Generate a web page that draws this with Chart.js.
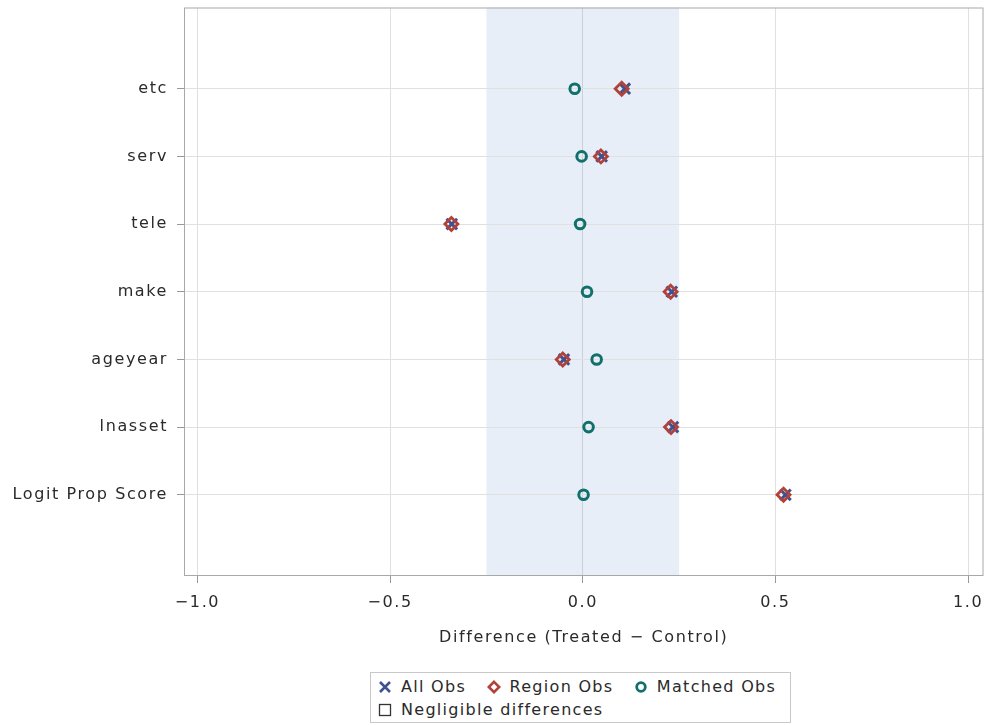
<!DOCTYPE html>
<html>
<head>
<meta charset="utf-8">
<script src="https://cdn.jsdelivr.net/npm/chart.js@4"></script>
<style>
  body { margin: 0; background: #fff; font-family: "DejaVu Sans", sans-serif; overflow: hidden; }
  #wrap { position: relative; width: 990px; height: 725px; overflow: hidden; }
  #balance { position: absolute; left: 0; top: -3px; }
  #legend {
    position: absolute; left: 370px; top: 672px; width: 421px; height: 51px;
    border: 1px solid #c8c8c8; box-sizing: border-box; padding: 2px 0 0 7px;
    font-size: 16px; color: #2a2a2a; line-height: 23px; letter-spacing: 1.3px;
    white-space: nowrap;
  }
  #legend span { margin-right: 14px; }
  #legend svg { vertical-align: -2px; margin-right: 9px; }
</style>
</head>
<body>
<div id="wrap">
  <canvas id="balance" width="994" height="668"></canvas>
  <div id="legend">
    <span><svg width="14" height="14"><path d="M2 2L12 12M12 2L2 12" stroke="#3f5190" stroke-width="2.6"/></svg>All Obs</span>
    <span><svg width="14" height="14"><path d="M7 1.8L12.2 7L7 12.2L1.8 7Z" fill="none" stroke="#b0423a" stroke-width="2.6"/></svg>Region Obs</span>
    <span><svg width="14" height="14"><circle cx="7" cy="7" r="4.3" fill="none" stroke="#11706c" stroke-width="2.8"/></svg>Matched Obs</span><br>
    <span><svg width="14" height="14"><rect x="1.5" y="1.5" width="11" height="11" fill="#fff" stroke="#333" stroke-width="1.3"/></svg>Negligible differences</span>
  </div>
</div>
<script>
// covariates, top to bottom
const variables = ["etc", "serv", "tele", "make", "ageyear", "lnasset", "Logit Prop Score"];
const allObs = [0.109, 0.049, -0.340, 0.231, -0.049, 0.234, 0.526];
const regionObs = [0.101, 0.047, -0.341, 0.228, -0.052, 0.229, 0.521];
const matchedObs = [-0.021, -0.003, -0.007, 0.011, 0.036, 0.015, 0.002];
const xTicks = [-1.0, -0.5, 0.0, 0.5, 1.0];
const negligible = [-0.25, 0.25];

function toPoints(values) {
  return values.map((v, i) => ({ x: v, y: i }));
}

// wider text, closer to the original font
const spacingPlugin = {
  id: "spacing",
  beforeUpdate(chart) { chart.ctx.letterSpacing = "1.6px"; },
  beforeDraw(chart) { chart.ctx.letterSpacing = "1.6px"; },
};

const bandPlugin = {
  id: "band",
  beforeDraw(chart) {
    const { ctx, chartArea, scales } = chart;
    const x1 = scales.x.getPixelForValue(negligible[0]);
    const x2 = scales.x.getPixelForValue(negligible[1]);
    ctx.save();
    ctx.fillStyle = "#e7eef8";
    ctx.fillRect(x1, chartArea.top, x2 - x1, chartArea.bottom - chartArea.top);
    ctx.restore();
  },
  afterDraw(chart) {
    const { ctx, chartArea } = chart;
    ctx.save();
    ctx.strokeStyle = "#a8a8a8";
    ctx.lineWidth = 1;
    ctx.strokeRect(chartArea.left + 0.5, chartArea.top + 0.5,
      chartArea.right - chartArea.left - 1, chartArea.bottom - chartArea.top - 1);
    ctx.restore();
  },
};

const font = { family: "DejaVu Sans", size: 16 };

const ctx = document.getElementById("balance").getContext("2d");
new Chart(ctx, {
  type: "scatter",
  data: {
    datasets: [
      {
        label: "All Obs",
        data: toPoints(allObs),
        pointStyle: "crossRot",
        pointRadius: 7.5,
        borderColor: "#3f5190",
        borderWidth: 3,
        order: 2,
      },
      {
        label: "Region Obs",
        data: toPoints(regionObs),
        pointStyle: "rectRot",
        pointRadius: 6.5,
        borderColor: "#b0423a",
        backgroundColor: "rgba(255,255,255,0)",
        borderWidth: 2.8,
        order: 1,
      },
      {
        label: "Matched Obs",
        data: toPoints(matchedObs),
        pointStyle: "circle",
        pointRadius: 4.8,
        borderColor: "#11706c",
        backgroundColor: "rgba(255,255,255,0)",
        borderWidth: 3,
        order: 0,
      },
    ],
  },
  options: {
    responsive: false,
    animation: false,
    layout: { padding: { top: 5, right: 4, left: 0, bottom: 0 } },
    plugins: {
      legend: { display: false },
      tooltip: { enabled: false },
    },
    scales: {
      x: {
        type: "linear",
        min: -1.035,
        max: 1.04,
        afterBuildTicks: (axis) => { axis.ticks = xTicks.map((v) => ({ value: v })); },
        afterFit: (axis) => {
          axis.height = 89;
          axis.paddingLeft = 0;
          axis.paddingRight = 0;
        },
        ticks: {
          callback: (v) => (v < 0 ? "\u2212" + Math.abs(v).toFixed(1) : v.toFixed(1)),
          color: "#2a2a2a",
          font: font,
          padding: 10,
        },
        grid: {
          color: (c) => (c.tick && c.tick.value === 0 ? "#c9d0d9" : "#e0e0e0"),
          tickColor: "#999",
          tickLength: 7,
        },
        border: { display: false },
        title: {
          display: true,
          text: "Difference (Treated \u2212 Control)",
          color: "#2a2a2a",
          font: font,
          padding: { top: 0, bottom: 18 },
        },
      },
      y: {
        type: "linear",
        reverse: true,
        min: -1.2,
        max: 7.2,
        afterBuildTicks: (axis) => { axis.ticks = variables.map((_, i) => ({ value: i })); },
        afterFit: (axis) => {
          axis.width = 184;
          axis.paddingTop = 0;
          axis.paddingBottom = 0;
        },
        ticks: {
          callback: (v) => variables[v] || "",
          color: "#2a2a2a",
          font: font,
          padding: 9,
        },
        grid: { color: "#e0e0e0", tickColor: "#999", tickLength: 7 },
        border: { display: false },
      },
    },
  },
  plugins: [spacingPlugin, bandPlugin],
});
</script>
</body>
</html>
